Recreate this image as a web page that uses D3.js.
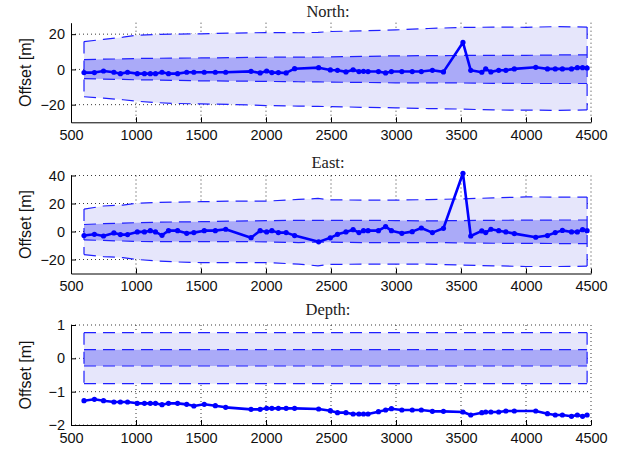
<!DOCTYPE html>
<html>
<head>
<meta charset="utf-8">
<script src="https://cdn.jsdelivr.net/npm/d3@7"></script>
<style>
  html, body { margin: 0; padding: 0; background: #fff; }
  svg { display: block; }
</style>
</head>
<body>
<svg id="chart" width="623" height="451"></svg>
<script>
// ---------------- data ----------------
const stations = [600, 680, 750, 830, 880, 935, 1010, 1065, 1110, 1150, 1200, 1250, 1320, 1390, 1445, 1525, 1610, 1690,
  1885, 1955, 2005, 2045, 2095, 2155, 2220, 2405, 2495, 2550, 2615, 2670, 2715, 2750, 2785, 2865, 2920, 2965,
  3045, 3125, 3195, 3280, 3365, 3515, 3575, 3660, 3690, 3730, 3790, 3845, 3910, 4075, 4165, 4225, 4280, 4350,
  4395, 4435, 4470];

const northOffset = [-1.8, -1.8, -0.9, -1.6, -2.4, -1.6, -2.4, -2.4, -2.4, -2.4, -1.6, -2.4, -2.4, -1.6, -1.6, -1.6, -1.6, -1.6,
  -1.1, -2.0, -0.9, -1.8, -1.8, -2.0, 0.4, 1.0, -0.3, -0.5, -1.4, -0.2, -1.2, -1.1, -1.2, -1.2, -2.0, -1.2,
  -1.2, -1.2, -1.2, -0.5, -1.4, 15.3, -0.5, -1.6, 0.3, -1.4, -0.5, -0.5, 0.3, 1.2, 0.3, 0.3, 0.3, 0.3,
  1.0, 1.0, 0.8];

const eastOffset = [-2.9, -2.0, -3.2, -1.0, -2.2, -2.2, -0.3, -0.3, 0.6, -0.3, -2.7, 0.6, 0.6, -1.3, -0.8, 0.6, 0.6, 1.6,
  -4.4, 0.6, -0.3, 0.6, -0.8, -0.8, -2.9, -7.4, -4.5, -2.0, -0.3, 1.3, -0.8, 0.6, 0.6, 0.6, 3.5, 0.6,
  -1.3, -0.1, 2.5, -0.8, 2.3, 41.6, -3.2, 0.4, -0.8, 1.6, 0.6, -0.3, -1.5, -4.1, -2.9, -0.8, 0.8, -0.3,
  -0.3, 1.3, 0.6];

const depthOffset = [-1.27, -1.23, -1.27, -1.31, -1.31, -1.31, -1.35, -1.35, -1.35, -1.35, -1.39, -1.35, -1.35, -1.38, -1.43, -1.38, -1.42, -1.47,
  -1.53, -1.53, -1.50, -1.50, -1.50, -1.50, -1.50, -1.52, -1.57, -1.63, -1.63, -1.67, -1.67, -1.67, -1.67, -1.60, -1.55, -1.51,
  -1.55, -1.55, -1.55, -1.59, -1.59, -1.61, -1.70, -1.63, -1.61, -1.61, -1.61, -1.58, -1.58, -1.58, -1.66, -1.70, -1.70, -1.74,
  -1.70, -1.74, -1.70];

const bandX = [600, 750, 900, 1000, 1150, 1300, 1500, 1750, 2000, 2250, 2400, 2500, 2750, 3000, 3250, 3500, 3750, 4000, 4250, 4470];

const northOuterHi = [15.8, 17.0, 18.3, 19.4, 19.8, 20.0, 20.2, 20.6, 20.9, 20.8, 21.0, 21.5, 21.9, 22.4, 23.2, 23.8, 24.0, 23.9, 24.3, 24.0];
const northOuterLo = [-15.5, -16.3, -17.2, -18.0, -18.8, -19.3, -19.6, -19.9, -20.5, -20.8, -21.0, -21.1, -21.5, -21.8, -22.2, -22.5, -23.0, -23.1, -23.2, -23.0];
const northInnerHi = [5.5, 5.8, 6.0, 6.2, 6.3, 6.4, 6.5, 6.7, 6.9, 7.0, 7.0, 7.1, 7.4, 7.7, 7.8, 7.9, 8.0, 8.0, 8.2, 8.3];
const northInnerLo = [-5.2, -5.5, -5.7, -5.9, -6.0, -6.2, -6.5, -6.6, -6.8, -7.0, -7.1, -7.2, -7.4, -7.6, -7.6, -7.7, -7.9, -8.0, -8.0, -8.0];

const eastOuterHi = [16.0, 18.2, 18.9, 20.1, 20.7, 21.0, 21.3, 21.7, 21.7, 22.9, 23.6, 22.6, 22.4, 22.4, 22.8, 23.3, 24.0, 24.7, 24.6, 24.6];
const eastOuterLo = [-16.5, -17.9, -18.7, -19.9, -21.0, -21.7, -22.2, -22.2, -22.2, -23.3, -24.5, -23.5, -23.3, -23.3, -23.3, -24.0, -24.5, -25.0, -25.0, -24.8];
const eastInnerHi = [5.0, 5.6, 6.0, 6.3, 6.6, 6.8, 7.0, 7.4, 7.7, 8.0, 8.0, 8.0, 8.0, 7.8, 7.6, 7.8, 8.0, 8.1, 8.2, 8.2];
const eastInnerLo = [-6.0, -6.4, -6.8, -7.1, -7.2, -7.2, -7.2, -7.2, -7.4, -7.9, -7.6, -7.6, -7.9, -7.9, -7.9, -8.1, -8.4, -8.5, -8.6, -8.6];

const depthBandX = [600, 4470];
const depthOuterHi = [0.77, 0.77];
const depthOuterLo = [-0.76, -0.76];
const depthInnerHi = [0.26, 0.26];
const depthInnerLo = [-0.23, -0.23];

const xTicks = [500, 1000, 1500, 2000, 2500, 3000, 3500, 4000, 4500];
const northTicks = [-20, 0, 20];
const eastTicks = [-20, 0, 20, 40];
const depthTicks = [-2, -1, 0, 1];
const titles = ["North:", "East:", "Depth:"];
const yLabel = "Offset [m]";

// ---------------- layout ----------------
const svg = d3.select("#chart");
const x = d3.scaleLinear().domain([500, 4500]).range([71, 591]);

const panels = [
  { title: titles[0], top: 22.7, bottom: 122.3, dom: [-30, 26.5], ticks: northTicks, vals: northOffset,
    bx: bandX, oh: northOuterHi, ol: northOuterLo, ih: northInnerHi, il: northInnerLo, titleY: 16.5 },
  { title: titles[1], top: 175.5, bottom: 273.5, dom: [-30, 40], ticks: eastTicks, vals: eastOffset,
    bx: bandX, oh: eastOuterHi, ol: eastOuterLo, ih: eastInnerHi, il: eastInnerLo, titleY: 168 },
  { title: titles[2], top: 325, bottom: 425, dom: [-2, 1], ticks: depthTicks, vals: depthOffset,
    bx: depthBandX, oh: depthOuterHi, ol: depthOuterLo, ih: depthInnerHi, il: depthInnerLo, titleY: 315 }
];

const blue = "#0000ff";
const dashBlue = "#2020ff";

panels.forEach(p => {
  const y = d3.scaleLinear().domain(p.dom).range([p.bottom, p.top]);
  const g = svg.append("g");

  // grid
  const grid = g.append("g").attr("stroke", "#222").attr("stroke-width", 0.9).attr("stroke-dasharray", "1,3");
  xTicks.filter(t => t !== 500).forEach(t => {
    grid.append("line").attr("x1", x(t)).attr("x2", x(t)).attr("y1", p.top).attr("y2", p.bottom);
  });
  p.ticks.forEach(t => {
    grid.append("line").attr("x1", x(500)).attr("x2", x(4500)).attr("y1", y(t)).attr("y2", y(t));
  });

  const bd = p.bx.map((v, i) => ({ x: v, oh: p.oh[i], ol: p.ol[i], ih: p.ih[i], il: p.il[i] }));

  // bands
  g.append("path").datum(bd)
    .attr("d", d3.area().x(d => x(d.x)).y0(d => y(d.ol)).y1(d => y(d.oh)))
    .attr("fill", "#e6e6fb");
  g.append("path").datum(bd)
    .attr("d", d3.area().x(d => x(d.x)).y0(d => y(d.il)).y1(d => y(d.ih)))
    .attr("fill", "#aaaaf8");

  // dashed bounds
  const dash = g.append("g").attr("fill", "none").attr("stroke", dashBlue)
    .attr("stroke-width", 1.2).attr("stroke-dasharray", "12,7");
  ["oh", "ol", "ih", "il"].forEach(k => {
    dash.append("path").datum(bd).attr("d", d3.line().x(d => x(d.x)).y(d => y(d[k])));
  });
  [bd[0], bd[bd.length - 1]].forEach(d => {
    dash.append("line").attr("x1", x(d.x)).attr("x2", x(d.x)).attr("y1", y(d.oh)).attr("y2", y(d.ol));
  });

  // axes
  const ax = g.append("g").attr("transform", `translate(0,${p.bottom})`)
    .call(d3.axisBottom(x).tickValues(xTicks).tickFormat(d3.format("d")).tickSize(-5).tickSizeOuter(0).tickPadding(7.5));
  const ay = g.append("g").attr("transform", `translate(${x(500)},0)`)
    .call(d3.axisLeft(y).tickValues(p.ticks).tickFormat(d3.format("d")).tickSize(-5).tickSizeOuter(0).tickPadding(6));
  [ax, ay].forEach(a => {
    a.selectAll("text").attr("font-family", "'Liberation Sans', Arial, sans-serif").attr("font-size", 14.5).attr("fill", "#111");
    a.selectAll("path, line").attr("stroke", "#000").attr("stroke-width", 1);
  });

  // data
  const pts = stations.map((s, i) => ({ x: s, v: p.vals[i] }));
  g.append("path").datum(pts)
    .attr("d", d3.line().x(d => x(d.x)).y(d => y(d.v)))
    .attr("fill", "none").attr("stroke", blue).attr("stroke-width", 2.6).attr("stroke-linejoin", "round");
  g.selectAll("circle.pt").data(pts).enter().append("circle")
    .attr("cx", d => x(d.x)).attr("cy", d => y(d.v)).attr("r", 2.6).attr("fill", blue);

  // title
  svg.append("text").attr("x", 328).attr("y", p.titleY).attr("text-anchor", "middle")
    .attr("font-family", "'Liberation Serif', 'Times New Roman', serif").attr("font-size", 16.5)
    .attr("fill", "#222").text(p.title);

  // y label
  svg.append("text")
    .attr("transform", `translate(31,${(p.top + p.bottom) / 2}) rotate(-90)`)
    .attr("text-anchor", "middle")
    .attr("font-family", "'Liberation Sans', Arial, sans-serif").attr("font-size", 16)
    .attr("fill", "#111").text(yLabel);
});
</script>
</body>
</html>
